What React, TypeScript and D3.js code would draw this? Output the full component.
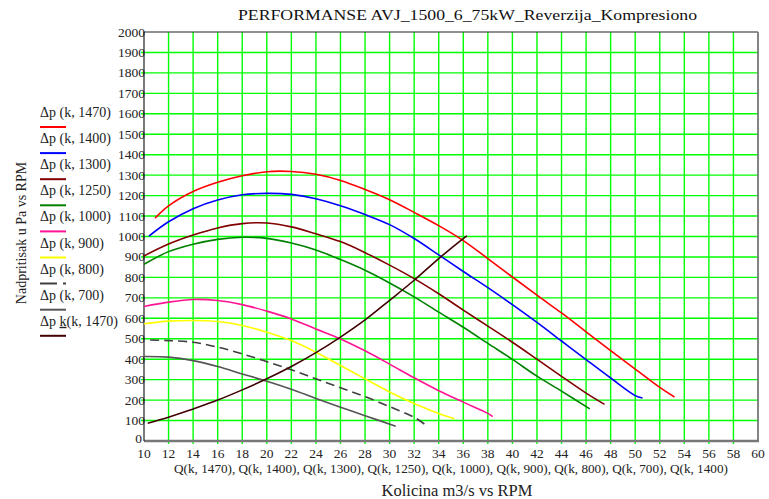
import React, { useRef, useEffect } from 'react';
import * as d3 from 'd3';

// flow (m3/s) and pressure (Pa), one pair per RPM
const q1470 = [10.9, 12, 14, 16, 18, 20, 22, 24, 26, 28, 30, 32, 34, 36, 38, 40, 42, 44, 46, 48, 50, 52, 53.2];
const dp1470 = [1090, 1150, 1220, 1265, 1297, 1317, 1318, 1304, 1274, 1230, 1180, 1118, 1053, 980, 892, 802, 713, 626, 534, 442, 352, 262, 215];

const q1400 = [10.4, 12, 14, 16, 18, 20, 22, 24, 26, 28, 30, 32, 34, 36, 38, 40, 42, 44, 46, 48, 50, 50.6];
const dp1400 = [1002, 1072, 1136, 1178, 1204, 1211, 1206, 1185, 1150, 1107, 1058, 990, 910, 829, 750, 667, 580, 489, 398, 308, 222, 210];

const q1300 = [10, 12, 14, 16, 18, 20, 22, 24, 26, 28, 30, 32, 34, 36, 38, 40, 42, 44, 46, 47.5];
const dp1300 = [905, 963, 1007, 1042, 1063, 1066, 1047, 1013, 975, 921, 860, 794, 720, 640, 562, 483, 400, 316, 234, 179];

const q1250 = [10, 12, 14, 16, 18, 20, 22, 24, 26, 28, 30, 32, 34, 36, 38, 40, 42, 44, 46.3];
const dp1250 = [864, 926, 962, 986, 996, 991, 968, 934, 887, 835, 773, 705, 630, 556, 477, 399, 317, 244, 157];

const q1000 = [10, 12, 14, 16, 18, 20, 22, 24, 26, 28, 30, 32, 34, 36, 38, 38.4];
const dp1000 = [658, 679, 692, 687, 667, 635, 597, 548, 499, 441, 376, 309, 246, 190, 135, 119];

const q900 = [10, 12, 14, 16, 18, 20, 22, 24, 26, 28, 30, 32, 34, 35.3];
const dp900 = [573, 586, 589, 584, 565, 532, 491, 434, 369, 304, 240, 183, 134, 108];

const q800 = [10.5, 12, 14, 16, 18, 20, 22, 24, 26, 28, 30, 32, 32.9];
const dp800 = [494, 491, 483, 459, 426, 388, 348, 304, 260, 217, 168, 116, 80];

const q700 = [10, 12, 14, 16, 18, 20, 22, 24, 26, 28, 30.5];
const dp700 = [413, 410, 393, 364, 328, 292, 253, 208, 165, 124, 72];

const qk1470 = [10.3, 12, 14, 16, 18, 20, 22, 24, 26, 28, 30, 32, 34, 36, 36.3];
const dpk1470 = [87, 116, 157, 200, 250, 304, 364, 432, 508, 592, 688, 786, 892, 990, 1003];

const xTicks = d3.range(10, 61, 2);
const yTicks = d3.range(0, 2001, 100);

const series = [
    { label: 'Δp (k, 1470)', q: q1470, dp: dp1470, color: '#ff0000', dash: null },
    { label: 'Δp (k, 1400)', q: q1400, dp: dp1400, color: '#0000ff', dash: null },
    { label: 'Δp (k, 1300)', q: q1300, dp: dp1300, color: '#800000', dash: null },
    { label: 'Δp (k, 1250)', q: q1250, dp: dp1250, color: '#008000', dash: null },
    { label: 'Δp (k, 1000)', q: q1000, dp: dp1000, color: '#ff1493', dash: null },
    { label: 'Δp (k, 900)', q: q900, dp: dp900, color: '#ffff00', dash: null },
    { label: 'Δp (k, 800)', q: q800, dp: dp800, color: '#404040', dash: '9,5' },
    { label: 'Δp (k, 700)', q: q700, dp: dp700, color: '#555555', dash: null },
    { label: 'Δp', q: qk1470, dp: dpk1470, color: '#400000', dash: null },
];

const App: React.FC = () => {
    const svgRef = useRef<SVGSVGElement>(null);

    useEffect(() => {
        if (!svgRef.current) return;

        const width = 769;
        const height = 499;
        const left = 144, right = 758, top = 32, bottom = 441;

        d3.select(svgRef.current).selectAll('*').remove();

        const svg = d3.select(svgRef.current)
            .attr('width', width)
            .attr('height', height)
            .attr('font-family', "'Liberation Serif', 'DejaVu Serif', serif");

        svg.append('rect').attr('width', width).attr('height', height).attr('fill', 'white');

        const x = d3.scaleLinear().domain([10, 60]).range([left, right]);
        const y = d3.scaleLinear().domain([0, 2000]).range([bottom, top]);

        // grid
        const grid = svg.append('g').attr('stroke', '#00ff00').attr('stroke-width', 1.4);
        grid.selectAll('.gx')
            .data(xTicks.filter(t => t > 10 && t < 60))
            .enter()
            .append('line')
            .attr('x1', d => x(d)).attr('x2', d => x(d))
            .attr('y1', top).attr('y2', bottom + 3);
        grid.selectAll('.gy')
            .data(yTicks.filter(t => t > 0 && t < 2000))
            .enter()
            .append('line')
            .attr('x1', left - 3).attr('x2', right)
            .attr('y1', d => y(d)).attr('y2', d => y(d));

        // frame
        svg.append('line').attr('x1', left).attr('x2', right).attr('y1', top).attr('y2', top)
            .attr('stroke', '#222').attr('stroke-width', 1.2);
        svg.append('line').attr('x1', right).attr('x2', right).attr('y1', top).attr('y2', bottom)
            .attr('stroke', '#777').attr('stroke-width', 1.8);
        svg.append('line').attr('x1', left).attr('x2', right + 1).attr('y1', bottom).attr('y2', bottom)
            .attr('stroke', '#777').attr('stroke-width', 2.5);
        svg.append('line').attr('x1', left).attr('x2', left).attr('y1', top).attr('y2', bottom)
            .attr('stroke', '#222').attr('stroke-width', 1.2);

        // tick labels
        svg.append('g').selectAll('text')
            .data(yTicks)
            .enter()
            .append('text')
            .attr('x', d => d === 0 ? left - 2 : left + 1)
            .attr('y', d => y(d) + (d === 0 ? 2 : 4.5))
            .attr('text-anchor', 'end')
            .attr('fill', '#222')
            .style('font-size', '13.5px')
            .text(d => d);

        svg.append('g').selectAll('text')
            .data(xTicks)
            .enter()
            .append('text')
            .attr('x', d => x(d))
            .attr('y', bottom + 17)
            .attr('text-anchor', 'middle')
            .attr('fill', '#222')
            .style('font-size', '13.5px')
            .text(d => d);

        // curves
        const line = d3.line<[number, number]>()
            .x(d => x(d[0]))
            .y(d => y(d[1]))
            .curve(d3.curveCatmullRom.alpha(0.5));

        series.forEach(s => {
            const pts = s.q.map((q, i) => [q, s.dp[i]] as [number, number]);
            svg.append('path')
                .attr('d', line(pts))
                .attr('fill', 'none')
                .attr('stroke', s.color)
                .attr('stroke-width', 1.6)
                .attr('stroke-dasharray', s.dash);
        });

        // legend
        const legend = svg.append('g');
        series.forEach((s, i) => {
            const ly = 127 + i * 26.1;
            const t = legend.append('text')
                .attr('x', 40)
                .attr('y', ly - 10)
                .attr('fill', '#222')
                .style('font-size', '14px');
            if (i === series.length - 1) {
                t.append('tspan').text('Δp ');
                t.append('tspan').attr('text-decoration', 'underline').text('k');
                t.append('tspan').text('(k, 1470)');
            } else {
                t.text(s.label);
            }
            legend.append('line')
                .attr('x1', 40).attr('x2', 66)
                .attr('y1', ly).attr('y2', ly)
                .attr('stroke', s.color)
                .attr('stroke-width', 2)
                .attr('stroke-dasharray', s.dash ? '17,6' : null);
        });

        // titles
        svg.append('text')
            .attr('x', 238)
            .attr('y', 20)
            .attr('textLength', 459)
            .attr('lengthAdjust', 'spacingAndGlyphs')
            .attr('fill', '#111')
            .style('font-size', '15.5px')
            .text('PERFORMANSE AVJ_1500_6_75kW_Reverzija_Kompresiono');

        svg.append('text')
            .attr('x', 451)
            .attr('y', 473)
            .attr('text-anchor', 'middle')
            .attr('fill', '#222')
            .style('font-size', '13.2px')
            .text('Q(k, 1470), Q(k, 1400), Q(k, 1300), Q(k, 1250), Q(k, 1000), Q(k, 900), Q(k, 800), Q(k, 700), Q(k, 1400)');

        svg.append('text')
            .attr('x', 457)
            .attr('y', 496)
            .attr('text-anchor', 'middle')
            .attr('fill', '#222')
            .style('font-size', '16.5px')
            .text('Kolicina m3/s vs RPM');

        svg.append('text')
            .attr('transform', 'translate(26,233) rotate(-90)')
            .attr('text-anchor', 'middle')
            .attr('fill', '#222')
            .style('font-size', '14px')
            .text('Nadpritisak u Pa vs RPM');
    }, []);

    return (
        <div style={{ position: 'fixed', left: 0, top: 0 }}>
            <svg ref={svgRef}></svg>
        </div>
    );
};

export default App;
